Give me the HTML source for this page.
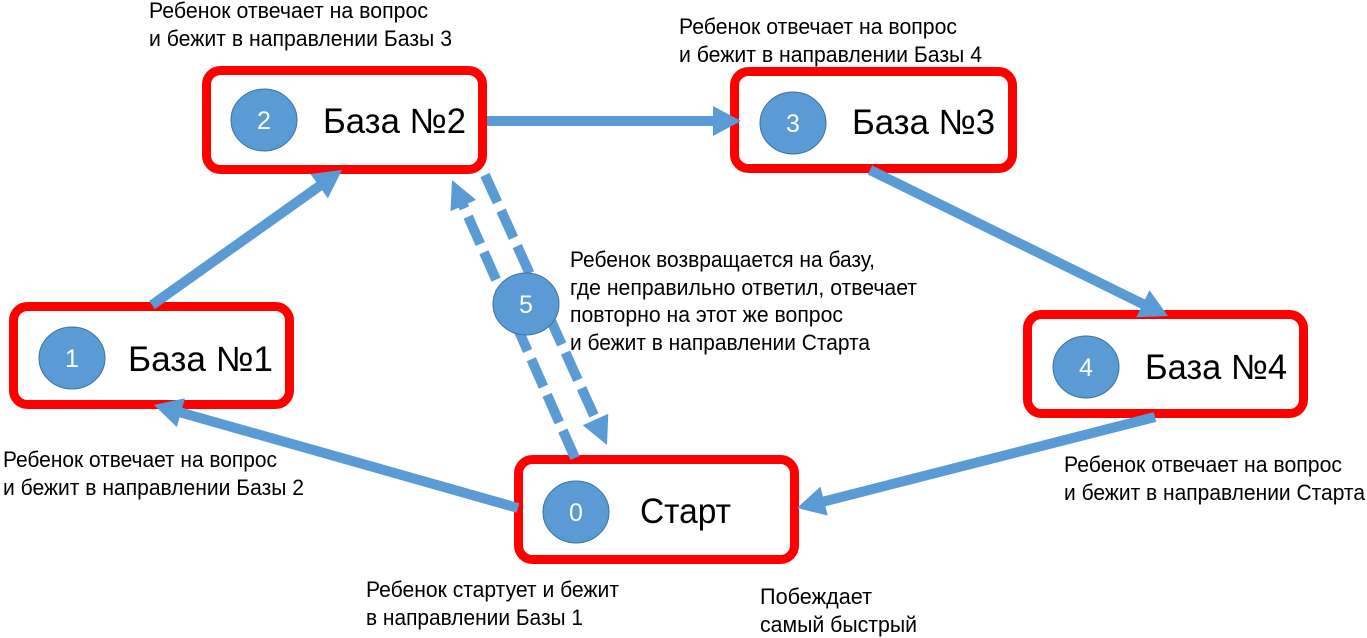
<!DOCTYPE html>
<html>
<head>
<meta charset="utf-8">
<style>
  html, body { margin: 0; padding: 0; background: #ffffff; }
  svg { display: block; }
  text { font-family: "Liberation Sans", "DejaVu Sans", sans-serif; fill: #000; }
  .lbl { font-size: 22px; }
  .big { font-size: 35px; }
  .num { font-size: 25px; fill: #ffffff; text-anchor: middle; }
</style>
</head>
<body>
<svg width="1367" height="638" viewBox="0 0 1367 638" xmlns="http://www.w3.org/2000/svg">
  <!-- Boxes -->
  <g fill="#ffffff" stroke="#ff0000" stroke-width="9">
    <rect x="206.5" y="70.5" width="276" height="99" rx="14" ry="14"/>
    <rect x="13.5" y="306.5" width="276" height="98" rx="14" ry="14"/>
    <rect x="734.5" y="71.5" width="278" height="97" rx="14" ry="14"/>
    <rect x="1027.5" y="314.5" width="276" height="99" rx="14" ry="14"/>
    <rect x="518.5" y="459.5" width="276" height="100" rx="14" ry="14"/>
  </g>

  <!-- Solid arrows -->
  <g stroke="#5b9bd5" stroke-width="10" fill="none">
    <line x1="152" y1="305" x2="321" y2="185"/>
    <line x1="487" y1="121" x2="715" y2="121"/>
    <line x1="870" y1="170" x2="1145" y2="305"/>
    <line x1="1155" y1="417" x2="822" y2="502"/>
    <line x1="518" y1="508" x2="179" y2="412"/>
  </g>
  <g fill="#5b9bd5">
    <polygon points="342,170 327.9,198.4 310.5,174.0"/>
    <polygon points="741,121 713,106 713,136"/>
    <polygon points="1168,316 1136.3,317.2 1149.5,290.2"/>
    <polygon points="797,508 820.4,486.6 827.8,515.6"/>
    <polygon points="154,405 185,398.2 176.8,427"/>
  </g>

  <!-- Dashed arrows -->
  <g stroke="#5b9bd5" stroke-width="10" fill="none" stroke-dasharray="30 9">
    <line x1="575" y1="458" x2="463" y2="205"/>
    <line x1="485" y1="175" x2="596" y2="420"/>
  </g>
  <g fill="#5b9bd5">
    <polygon points="452,180 476.1,199.9 450.5,211.3"/>
    <polygon points="607,445 582.7,425.3 608.3,413.7"/>
  </g>

  <!-- Circles -->
  <g fill="#5b9bd5" stroke="#41719c" stroke-width="1">
    <ellipse cx="264" cy="120" rx="33" ry="31"/>
    <ellipse cx="72" cy="358" rx="33" ry="31"/>
    <ellipse cx="793" cy="123" rx="33" ry="31"/>
    <ellipse cx="1086" cy="367" rx="33" ry="31"/>
    <ellipse cx="576" cy="512" rx="33" ry="31"/>
    <ellipse cx="526" cy="304" rx="33" ry="31"/>
  </g>
  <text class="num" x="264" y="129">2</text>
  <text class="num" x="72" y="367">1</text>
  <text class="num" x="793" y="132">3</text>
  <text class="num" x="1086" y="376">4</text>
  <text class="num" x="576" y="521">0</text>
  <text class="num" x="526" y="313">5</text>

  <!-- Box labels -->
  <text class="big" x="323" y="133" textLength="143" lengthAdjust="spacingAndGlyphs">База №2</text>
  <text class="big" x="128" y="371" textLength="145" lengthAdjust="spacingAndGlyphs">База №1</text>
  <text class="big" x="852" y="134" textLength="143" lengthAdjust="spacingAndGlyphs">База №3</text>
  <text class="big" x="1145" y="379" textLength="142" lengthAdjust="spacingAndGlyphs">База №4</text>
  <text class="big" x="640" y="523" textLength="91" lengthAdjust="spacingAndGlyphs">Старт</text>

  <!-- Annotations -->
  <text class="lbl" x="149" y="18" textLength="279" lengthAdjust="spacingAndGlyphs">Ребенок отвечает на вопрос</text>
  <text class="lbl" x="149" y="46" textLength="303" lengthAdjust="spacingAndGlyphs">и бежит в направлении Базы 3</text>

  <text class="lbl" x="679" y="34" textLength="278" lengthAdjust="spacingAndGlyphs">Ребенок отвечает на вопрос</text>
  <text class="lbl" x="679" y="62" textLength="303" lengthAdjust="spacingAndGlyphs">и бежит в направлении Базы 4</text>

  <text class="lbl" x="570" y="267" textLength="305" lengthAdjust="spacingAndGlyphs">Ребенок возвращается на базу,</text>
  <text class="lbl" x="570" y="295" textLength="347" lengthAdjust="spacingAndGlyphs">где неправильно ответил, отвечает</text>
  <text class="lbl" x="570" y="322" textLength="273" lengthAdjust="spacingAndGlyphs">повторно на этот же вопрос</text>
  <text class="lbl" x="570" y="350" textLength="300" lengthAdjust="spacingAndGlyphs">и бежит в направлении Старта</text>

  <text class="lbl" x="3" y="467" textLength="274" lengthAdjust="spacingAndGlyphs">Ребенок отвечает на вопрос</text>
  <text class="lbl" x="3" y="495" textLength="301" lengthAdjust="spacingAndGlyphs">и бежит в направлении Базы 2</text>

  <text class="lbl" x="1064" y="472" textLength="278" lengthAdjust="spacingAndGlyphs">Ребенок отвечает на вопрос</text>
  <text class="lbl" x="1064" y="500" textLength="301" lengthAdjust="spacingAndGlyphs">и бежит в направлении Старта</text>

  <text class="lbl" x="366" y="597" textLength="253" lengthAdjust="spacingAndGlyphs">Ребенок стартует и бежит</text>
  <text class="lbl" x="366" y="625" textLength="217" lengthAdjust="spacingAndGlyphs">в направлении Базы 1</text>

  <text class="lbl" x="760" y="604" textLength="112" lengthAdjust="spacingAndGlyphs">Побеждает</text>
  <text class="lbl" x="760" y="632" textLength="157" lengthAdjust="spacingAndGlyphs">самый быстрый</text>
</svg>
</body>
</html>
